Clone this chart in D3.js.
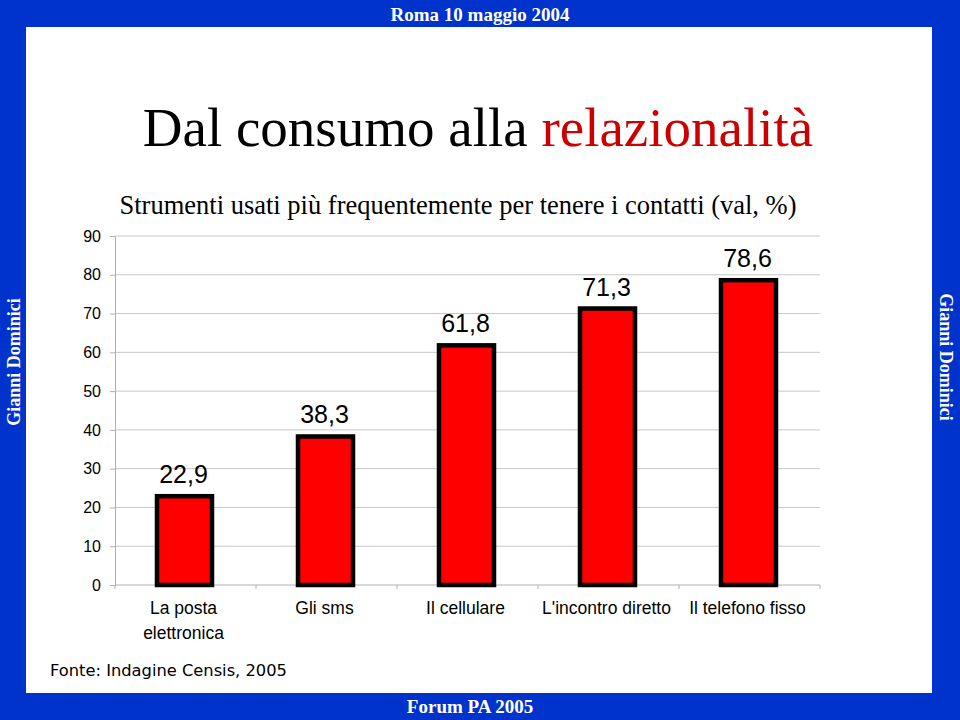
<!DOCTYPE html>
<html><head><meta charset="utf-8">
<script src="https://cdn.jsdelivr.net/npm/d3@7"></script>
<style>html,body{margin:0;padding:0;background:#fff;}svg{display:block;}</style>
</head><body>
<svg id="c" width="960" height="720"></svg>
<script>
const categories = [["La posta","elettronica"],["Gli sms"],["Il cellulare"],["L'incontro diretto"],["Il telefono fisso"]];
const values = [22.9, 38.3, 61.8, 71.3, 78.6];
const valueLabels = ["22,9","38,3","61,8","71,3","78,6"];
const yTicks = [0,10,20,30,40,50,60,70,80,90];

const svg = d3.select("#c");
const blue = "#0033cc";
// frame
svg.append("rect").attr("x",0).attr("y",0).attr("width",960).attr("height",720).attr("fill",blue);
svg.append("rect").attr("x",26).attr("y",27).attr("width",906).attr("height",666).attr("fill","#fff");
svg.append("text").attr("x",480).attr("y",21).attr("text-anchor","middle")
  .attr("font-family","Liberation Serif, Times New Roman, serif").attr("font-weight","bold").attr("font-size",19)
  .attr("fill","#fff").text("Roma  10 maggio  2004");
svg.append("text").attr("x",470).attr("y",713).attr("text-anchor","middle")
  .attr("font-family","Liberation Serif, Times New Roman, serif").attr("font-weight","bold").attr("font-size",19)
  .attr("fill","#fff").text("Forum PA 2005");
svg.append("text").attr("transform","translate(20,362) rotate(-90)").attr("text-anchor","middle")
  .attr("font-family","Liberation Serif, Times New Roman, serif").attr("font-weight","bold").attr("font-size",18)
  .attr("fill","#fff").text("Gianni Dominici");
svg.append("text").attr("transform","translate(940,357) rotate(90)").attr("text-anchor","middle")
  .attr("font-family","Liberation Serif, Times New Roman, serif").attr("font-weight","bold").attr("font-size",18)
  .attr("fill","#fff").text("Gianni Dominici");

// titles
const t = svg.append("text").attr("x",478).attr("y",146).attr("text-anchor","middle")
  .attr("font-family","Liberation Serif, Times New Roman, serif").attr("font-size",55);
t.append("tspan").attr("fill","#000").text("Dal consumo alla ");
t.append("tspan").attr("fill","#cc0000").text("relazionalità");
svg.append("text").attr("x",458).attr("y",214).attr("text-anchor","middle")
  .attr("font-family","Liberation Serif, Times New Roman, serif").attr("font-size",26.5)
  .attr("fill","#000").text("Strumenti usati più frequentemente per tenere i contatti (val, %)");

// chart
const x0 = 115, x1 = 820, yTop = 236, yBot = 585;
const y = d3.scaleLinear().domain([0,90]).range([yBot,yTop]);
const xb = d3.scaleLinear().domain([0,values.length]).range([x0,x1]);

svg.append("g").selectAll("line").data(yTicks.slice(1)).join("line")
  .attr("x1",x0).attr("x2",x1).attr("y1",d=>y(d)).attr("y2",d=>y(d))
  .attr("stroke","#c8c8c8").attr("stroke-width",1);

const ya = svg.append("g").attr("transform",`translate(${x0},0)`)
  .call(d3.axisLeft(y).tickValues(yTicks).tickSize(5).tickPadding(9).tickFormat(d3.format("d")));
ya.select(".domain").attr("stroke","#b0b0b0");
ya.selectAll(".tick line").attr("stroke","#b0b0b0");
ya.selectAll("text").attr("font-family","Liberation Sans, Arial, sans-serif").attr("font-size",16).attr("fill","#000");

svg.append("line").attr("x1",x0).attr("x2",x1).attr("y1",yBot).attr("y2",yBot).attr("stroke","#b0b0b0");
svg.append("g").selectAll("line").data(d3.range(values.length+1)).join("line")
  .attr("x1",d=>xb(d)).attr("x2",d=>xb(d)).attr("y1",yBot).attr("y2",yBot+4).attr("stroke","#b0b0b0");

const bw = 55;
svg.append("g").selectAll("rect").data(values).join("rect")
  .attr("x",(d,i)=>xb(i+0.5)-bw/2-1).attr("width",bw)
  .attr("y",d=>y(d)).attr("height",d=>yBot-y(d))
  .attr("fill","#ff0000").attr("stroke","#000").attr("stroke-width",4.5);

svg.append("g").selectAll("text").data(values).join("text")
  .attr("x",(d,i)=>xb(i+0.5)-2).attr("y",d=>y(d)-13).attr("text-anchor","middle")
  .attr("font-family","Liberation Sans, Arial, sans-serif").attr("font-size",25).attr("fill","#000")
  .text((d,i)=>valueLabels[i]);

const cl = svg.append("g").selectAll("text").data(categories).join("text")
  .attr("x",(d,i)=>xb(i+0.5)-2).attr("y",614).attr("text-anchor","middle")
  .attr("font-family","Liberation Sans, Arial, sans-serif").attr("font-size",17.5).attr("fill","#000");
cl.selectAll("tspan").data(d=>d).join("tspan")
  .attr("x",function(){return d3.select(this.parentNode).attr("x");})
  .attr("dy",(d,i)=>i===0?0:25).text(d=>d);

svg.append("text").attr("x",50).attr("y",676)
  .attr("font-family","DejaVu Sans, Verdana, sans-serif").attr("font-size",16.3).attr("fill","#000")
  .text("Fonte: Indagine Censis, 2005");
</script>
</body></html>
